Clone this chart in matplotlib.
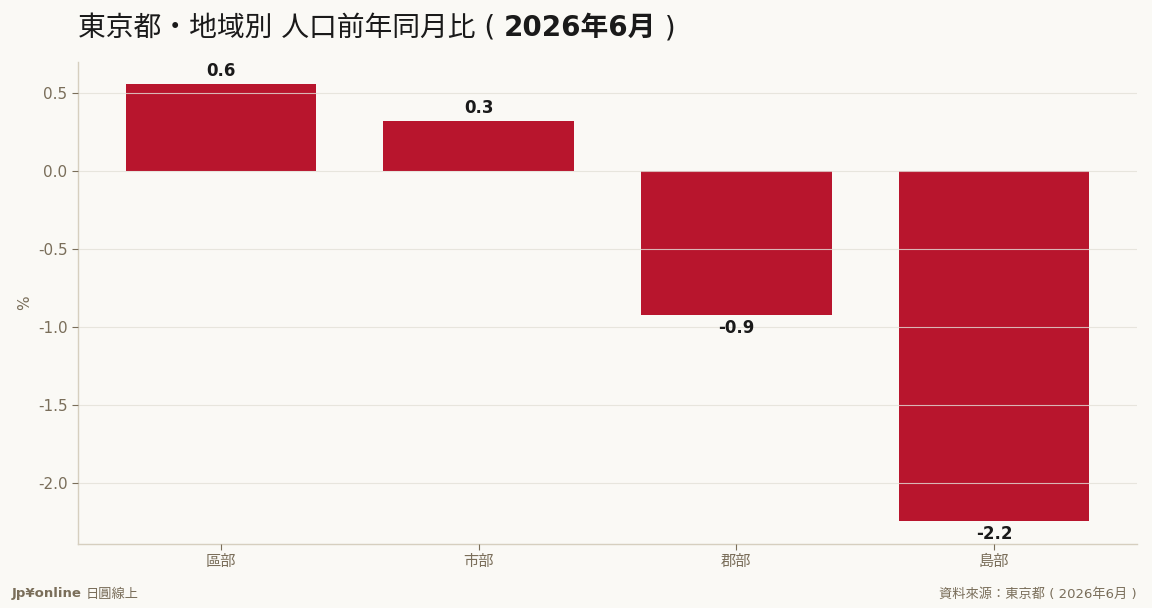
import matplotlib
matplotlib.use("Agg")
import matplotlib.pyplot as plt

categories = ["區部", "市部", "郡部", "島部"]
values = [0.56, 0.32, -0.92, -2.24]
labels = ["0.6", "0.3", "-0.9", "-2.2"]
yticks = [0.5, 0.0, -0.5, -1.0, -1.5, -2.0]

BG = "#faf9f5"
BAR = "#b8152d"
TICK = "#7a6e5a"
SPINE = "#d6cfbf"
GRID = "#e3e0d8"
DARK = "#1a1a1a"

FAM = ['DejaVu Sans', 'Noto Sans CJK JP']
plt.rcParams['font.family'] = FAM

W, H = 1152, 608
fig = plt.figure(figsize=(W/100, H/100), dpi=100, facecolor=BG)
ax = fig.add_axes([78/W, 1-544/H, (1137-78)/W, (544-62)/H])
ax.set_facecolor(BG)

x = list(range(len(categories)))
ax.bar(x, values, width=0.74, color=BAR, zorder=2)
ax.set_xlim(-0.555, 3.555)
ax.set_ylim(-2.39, 0.7)
ax.set_yticks(yticks)
ax.set_yticklabels([f"{v:.1f}" for v in yticks])
ax.set_xticks(x)
ax.set_xticklabels(categories)
ax.grid(axis='y', color=GRID, linewidth=0.8, zorder=3, alpha=0.8)
ax.set_axisbelow(False)
for s in ['top', 'right']:
    ax.spines[s].set_visible(False)
for s in ['left', 'bottom']:
    ax.spines[s].set_color(SPINE)
    ax.spines[s].set_linewidth(1.0)
ax.tick_params(axis='both', colors=TICK, labelsize=11, length=4, width=0.8)
ax.set_ylabel("%", color=TICK, fontsize=11, labelpad=4)

for xi, v, lab in zip(x, values, labels):
    if v >= 0:
        ax.annotate(lab, (xi, v), xytext=(0, 3), textcoords='offset points',
                    ha='center', va='bottom', fontsize=12, fontweight='bold', color=DARK, zorder=5)
    else:
        ax.annotate(lab, (xi, v), xytext=(0, -3), textcoords='offset points',
                    ha='center', va='top', fontsize=12, fontweight='bold', color=DARK, zorder=5)

# Title in pieces
TY = 1 - 28/H
TS = 20
t1 = fig.text(78/W, TY, "東京都・地域別 人口前年同月比 ( ", fontsize=TS, color=DARK,
              va='center', ha='left')
t2 = fig.text(0, TY, "2026年6月", fontsize=TS, color=DARK, fontweight='bold',
              va='center', ha='left')
t3 = fig.text(0, TY, " )", fontsize=TS, color=DARK, va='center', ha='left')
fig.canvas.draw()
r = fig.canvas.get_renderer()
bb1 = t1.get_window_extent(r)
t2.set_x(bb1.x1/W)
fig.canvas.draw()
bb2 = t2.get_window_extent(r)
t3.set_x(bb2.x1/W)

# Footer
FY = 1 - 594/H
f1 = fig.text(12/W, FY, "Jp¥online", fontsize=9.5, color=TICK, fontweight='bold',
              va='center', ha='left')
fig.canvas.draw()
bbf = f1.get_window_extent(r)
fig.text(bbf.x1/W + 0.003, FY, "日圓線上", fontsize=9.5, color=TICK,
         va='center', ha='left')
fig.text(1137/W, FY, "資料來源：東京都 ( 2026年6月 )", fontsize=9.5, color=TICK,
         va='center', ha='right')

fig.savefig("out.png", dpi=100, facecolor=BG)
